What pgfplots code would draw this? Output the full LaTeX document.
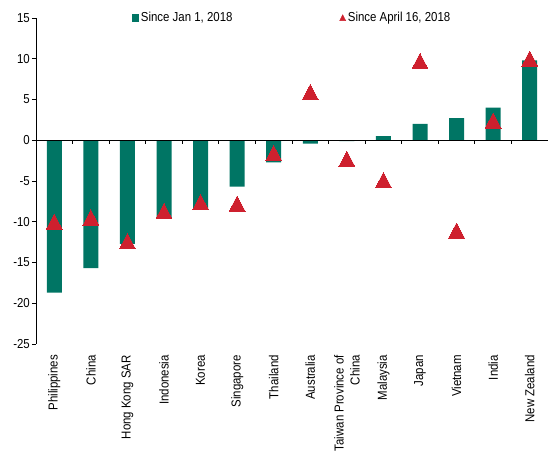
\documentclass[border=0pt]{standalone}
\usepackage{fontspec}
\setmainfont{Liberation Sans}[FakeStretch=0.88]
\usepackage{pgfplots}
\pgfplotsset{compat=1.18}
\definecolor{barg}{RGB}{0,117,100}
\definecolor{trir}{RGB}{206,32,46}
\begin{document}
\begin{tikzpicture}
\begin{axis}[
  name=ax,
  scale only axis,
  width=512pt, height=326pt,
  xmin=-0.5, xmax=13.5,
  ymin=-25, ymax=15,
  ytick={-25,-20,...,15},
  /pgf/number format/assume math mode=true,
  axis x line*=bottom,
  axis y line*=left,
  x axis line style={draw=none},
  y axis line style={black, line width=0.9pt},
  xtick={0,...,13},
  xtick style={draw=none},
  ytick style={black, line width=0.8pt},
  tick align=outside,
  major tick length=4pt,
  xticklabels={Philippines,China,Hong Kong SAR,Indonesia,Korea,Singapore,Thailand,Australia,{Taiwan Province of\\China},Malaysia,Japan,Vietnam,India,New Zealand},
  xticklabel style={rotate=90, anchor=east, align=right, inner sep=0pt, yshift=0pt, xshift=-7pt},
  every tick label/.append style={font=\fontsize{13}{16}\selectfont},
  yticklabel style={inner sep=0pt, xshift=-2pt},
  clip=false,
  legend style={at={(0.5,1.0)}, anchor=center, draw=none, fill=none,
    font=\fontsize{13}{16}\selectfont, legend columns=2,
    /tikz/every even column/.append style={column sep=105pt},
    inner sep=0pt, cells={anchor=west}},
]
\addplot[ybar, bar width=15pt, fill=barg, draw=none,
  legend image code/.code={\fill[barg] (0pt,-3.6pt) rectangle (7.2pt,3.6pt);}]
  coordinates {(0,-18.7) (1,-15.7) (2,-12.7) (3,-9.4) (4,-8.5) (5,-5.7) (6,-2.7) (7,-0.4) (8,-0.1) (9,0.5) (10,2.0) (11,2.7) (12,4.0) (13,9.8)};
\addlegendentry{Since Jan 1, 2018}
\draw[black, line width=0.8pt] (axis cs:-0.5,0) -- (axis cs:13.5,0);
\pgfplotsinvokeforeach{0.5,1.5,2.5,3.5,4.5,5.5,6.5,7.5,8.5,9.5,10.5,11.5,12.5}{
  \draw[black, line width=0.8pt] (axis cs:#1,0) -- ++(0pt,-4pt);
}
\addplot[trir, only marks, mark=triangle*, mark size=9.2pt, mark options={solid, fill=trir, draw=trir, line width=0pt, yscale=1.1},
  legend image code/.code={\fill[trir] (0pt,-2.6pt) -- (6pt,-2.6pt) -- (3pt,3.2pt) -- cycle;}]
  coordinates {(0,-10.3) (1,-9.8) (2,-12.7) (3,-9.0) (4,-7.9) (5,-8.1) (6,-1.9) (7,5.6) (8,-2.6) (9,-5.2) (10,9.4) (11,-11.4) (12,2.1) (13,9.7)};
\addlegendentry{Since April 16, 2018}
\end{axis}
\path (ax.south west) ++(-36pt,-107pt) coordinate (bl);
\path (ax.north east) ++(0pt,18pt) coordinate (tr);
\pgfresetboundingbox
\path (bl) rectangle (tr);
\end{tikzpicture}
\end{document}
